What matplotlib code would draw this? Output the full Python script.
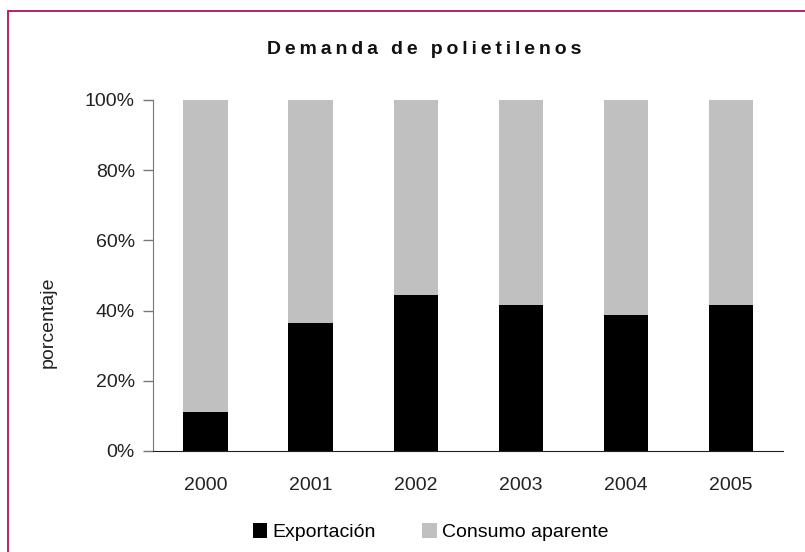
import matplotlib.pyplot as plt
import matplotlib.patches as mpatches
import numpy as np

plt.rcParams['font.family'] = ['Liberation Sans', 'DejaVu Sans']

years = ['2000', '2001', '2002', '2003', '2004', '2005']
exportacion = [11.1, 36.5, 44.4, 41.6, 38.7, 41.6]
consumo = [100 - v for v in exportacion]
titulo = 'Demanda de polietilenos'

fig = plt.figure(figsize=(8.05, 5.52), dpi=100)
ax = fig.add_axes([0.190, 0.183, 0.783, 0.636])

x = np.arange(len(years))
ax.bar(x, exportacion, width=0.42, color='black', label='Exportación')
ax.bar(x, consumo, width=0.42, bottom=exportacion, color='#c0c0c0', label='Consumo aparente')

ax.set_xlim(-0.5, len(years) - 0.5)
ax.set_ylim(0, 100)
ax.set_yticks(range(0, 101, 20))
ax.set_yticklabels([f'{v}%' for v in range(0, 101, 20)])
ax.set_xticks(x)
ax.set_xticklabels(years)
ax.tick_params(axis='x', length=0, pad=19, labelsize=14, labelcolor='#222222')
ax.tick_params(axis='y', length=7, width=1, color='#777777', pad=6, labelsize=14, labelcolor='#222222')
for s in ['top', 'right']:
    ax.spines[s].set_visible(False)
ax.spines['left'].set_color('#777777')
ax.spines['bottom'].set_color('#222222')

fig.text(48 / 805, 1 - 322 / 552, 'porcentaje', rotation=90, ha='center', va='center',
         fontsize=14, color='#222222')

# titulo con espaciado entre letras
fig.text(424 / 805, 1 - 50 / 552, '\u2009'.join(titulo), ha='center', va='center',
         fontsize=14, fontweight='bold', color='#111111')

ax.legend(loc='center', bbox_to_anchor=(0.44, -0.232), ncol=2, frameon=False,
          fontsize=14, handlelength=0.75, handleheight=0.75, handletextpad=0.25,
          columnspacing=2.4)

# marco de la figura
fig.patches.append(mpatches.Rectangle((8 / 805, -0.1), 1.2, 1.1 - 11 / 552, transform=fig.transFigure,
                                      fill=False, edgecolor='#b0125a', linewidth=1.3))

fig.savefig('out.png', dpi=100)
